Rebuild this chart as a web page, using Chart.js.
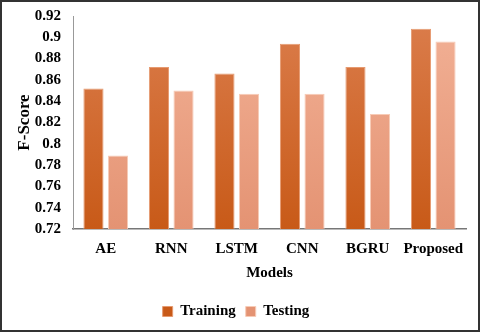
<!DOCTYPE html>
<html lang="en">
<head>
    <meta charset="UTF-8">
    <title>F-Score by Model</title>
    <script src="https://cdn.jsdelivr.net/npm/chart.js"></script>
    <style>
        html, body { margin: 0; padding: 0; background: #fff; }
        .container {
            width: 480px;
            height: 332px;
            box-sizing: border-box;
            border: 2px solid #333;
            position: relative;
        }
    </style>
</head>
<body>
    <div class="container">
        <canvas id="scoreChart"></canvas>
    </div>
    <script>
        const models = ['AE', 'RNN', 'LSTM', 'CNN', 'BGRU', 'Proposed'];
        const training = [0.852, 0.872, 0.866, 0.894, 0.872, 0.908];
        const testing = [0.789, 0.850, 0.847, 0.847, 0.828, 0.896];
        const yTicks = [0.72, 0.74, 0.76, 0.78, 0.8, 0.82, 0.84, 0.86, 0.88, 0.9, 0.92];

        function grad(top, bottom) {
            return function (context) {
                const area = context.chart.chartArea;
                if (!area) return bottom;
                const g = context.chart.ctx.createLinearGradient(0, area.top, 0, area.bottom);
                g.addColorStop(0, top);
                g.addColorStop(1, bottom);
                return g;
            };
        }

        const font = { family: '"Liberation Serif", "Times New Roman", serif', weight: 'bold', size: 15 };

        const ctx = document.getElementById('scoreChart').getContext('2d');
        new Chart(ctx, {
            type: 'bar',
            data: {
                labels: models,
                datasets: [{
                    label: 'Training',
                    data: training,
                    backgroundColor: grad('#db7d4c', '#c85a18'),
                    borderColor: '#e69a70',
                    borderWidth: 1,
                    categoryPercentage: 0.75,
                    barPercentage: 0.82
                }, {
                    label: 'Testing',
                    data: testing,
                    backgroundColor: grad('#f2b196', '#e49373'),
                    borderColor: '#f7cbb6',
                    borderWidth: 1,
                    categoryPercentage: 0.75,
                    barPercentage: 0.82
                }]
            },
            options: {
                responsive: true,
                maintainAspectRatio: false,
                animation: false,
                layout: { padding: { top: 14, right: 12, left: 4, bottom: 1 } },
                plugins: {
                    legend: {
                        position: 'bottom',
                        labels: {
                            color: '#000',
                            font: font,
                            boxWidth: 10,
                            boxHeight: 10,
                            padding: 10
                        }
                    },
                    tooltip: { enabled: false }
                },
                scales: {
                    x: {
                        grid: { display: false, drawTicks: false },
                        border: { color: '#777', width: 1.5 },
                        ticks: { color: '#000', font: font, padding: 11, autoSkip: false, maxRotation: 0, minRotation: 0 },
                        title: { display: true, text: 'Models', color: '#000', font: font, padding: { top: -5, bottom: 12 } }
                    },
                    y: {
                        min: 0.72,
                        max: 0.92,
                        afterBuildTicks: axis => { axis.ticks = yTicks.map(v => ({ value: v })); },
                        afterFit: axis => { axis.width = 67; axis.paddingTop = 0; axis.paddingBottom = 0; },
                        grid: { display: false, drawTicks: false },
                        border: { color: '#999', width: 1 },
                        ticks: { color: '#000', font: font, padding: 12, autoSkip: false, callback: v => String(+v.toFixed(2)) },
                        title: { display: true, text: 'F-Score', color: '#000', font: { ...font, size: 17 }, padding: { top: 8, bottom: 0 } }
                    }
                }
            }
        });
    </script>
</body>
</html>
